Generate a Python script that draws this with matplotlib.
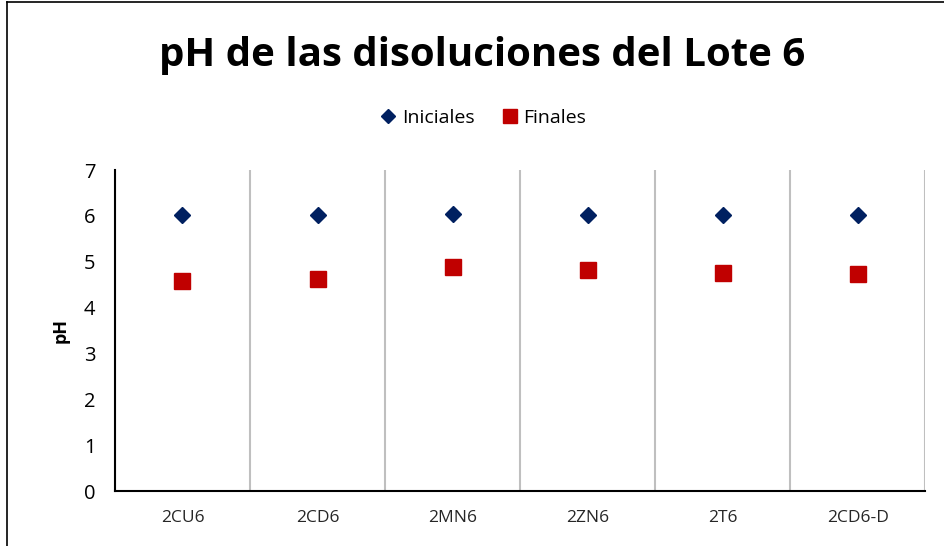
import numpy as np
import matplotlib.pyplot as plt
from matplotlib.lines import Line2D

# pH por muestra, lote 6
muestras = ['2CU6', '2CD6', '2MN6', '2ZN6', '2T6', '2CD6-D']
ph_inicial = [6.01, 6.02, 6.04, 6.01, 6.02, 6.02]
ph_final = [4.58, 4.62, 4.88, 4.82, 4.75, 4.73]

plt.rcParams['font.family'] = ['Open Sans', 'DejaVu Sans']

fig = plt.figure(figsize=(9.44, 5.46), dpi=100)
ax = fig.add_axes([0.1218, 0.1007, 0.8582, 0.5879])

x = np.arange(1, len(muestras) + 1)
ax.plot(x, ph_inicial, linestyle='none', marker='D', ms=8, color='#002060', label='Iniciales')
ax.plot(x, ph_final, linestyle='none', marker='s', ms=12, color='#C00000', label='Finales')

ax.set_xlim(0.5, len(muestras) + 0.5)
ax.set_ylim(0, 7)
ax.set_yticks(range(0, 8))
ax.set_xticks(x)
ax.set_xticklabels(muestras)
ax.set_xticks(np.arange(0.5, len(muestras) + 1, 1), minor=True)
ax.grid(which='minor', axis='x', color='#BFBFBF', linewidth=1.5)
ax.tick_params(which='both', length=0)
ax.tick_params(axis='y', labelsize=14.5, pad=14)
ax.tick_params(axis='x', labelsize=12.5, pad=14, colors='#262626')

for s in ['top', 'right']:
    ax.spines[s].set_visible(False)
for s in ['left', 'bottom']:
    ax.spines[s].set_linewidth(1.5)
    ax.spines[s].set_color('black')

ax.set_ylabel('pH', fontsize=13, fontweight='bold', labelpad=10)

fig.text(0.511, 0.898, 'pH de las disoluciones del Lote 6', ha='center', va='center',
         fontsize=29, fontweight='bold')

fig.legend(loc='center', bbox_to_anchor=(0.51, 0.784), ncol=2, frameon=False,
           fontsize=14, handletextpad=0.1, columnspacing=1.2, handlelength=1.2,
           markerscale=0.85)

# marco del grafico
fig.add_artist(Line2D([7 / 944, 7 / 944], [0, 1 - 2 / 546], color='black', linewidth=1.2))
fig.add_artist(Line2D([7 / 944, 1], [1 - 2 / 546, 1 - 2 / 546], color='black', linewidth=1.2))

fig.savefig('out.png', dpi=100)
